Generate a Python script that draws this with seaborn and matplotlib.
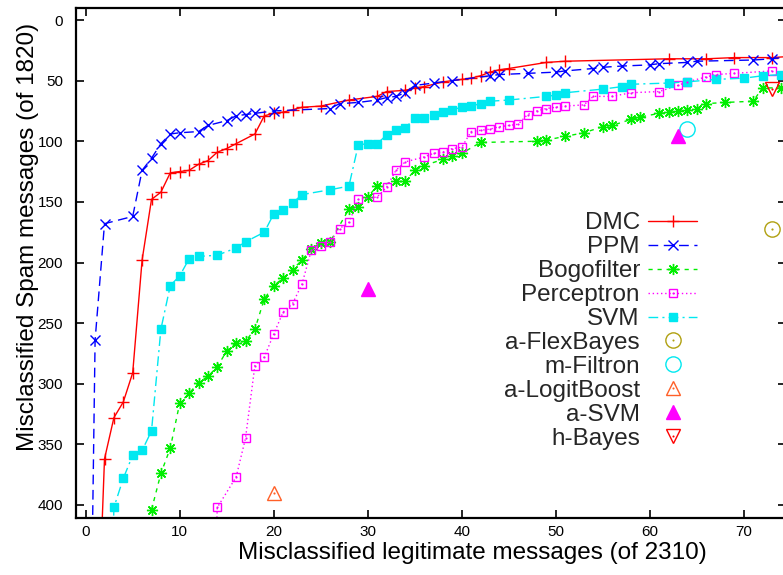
import matplotlib
matplotlib.use("Agg")
import matplotlib.pyplot as plt
from matplotlib.lines import Line2D
import seaborn as sns
import pandas as pd

# ---------------- data ----------------
dmc_x = [1, 2, 3, 4, 5, 6, 7, 8, 9, 10, 11, 12, 13, 14, 15, 16, 18, 19, 20, 21, 22, 23, 25, 28,
         31, 32, 34, 35, 36, 38, 40, 41, 42, 43, 44, 45, 49, 51, 62, 66, 69, 73, 75]
dmc_y = [570, 362, 328, 315, 291, 198, 148, 142, 126, 125, 124, 119, 116, 109, 106, 102, 94, 79, 77,
         76, 74, 72, 71, 66, 63, 59, 58, 56, 55, 51, 49, 48, 46, 43, 41, 40, 35, 34, 32, 32, 31, 31, 30]

ppm_x = [0, 1, 2, 5, 6, 7, 8, 9, 10, 12, 13, 15, 16, 17, 18, 20, 26, 27, 29, 31, 32, 33, 34, 35,
         37, 39, 43, 44, 47, 50, 51, 54, 55, 57, 60, 61, 64, 65, 71, 73, 75]
ppm_y = [830, 264, 168, 162, 124, 114, 102, 94, 93, 92, 87, 83, 79, 78, 77, 75, 73, 69, 68, 66, 64,
         63, 60, 54, 52, 50, 46, 45, 44, 43, 42, 40, 39, 38, 37, 36, 35, 34, 33, 32, 30]

bogo_x = [7, 8, 9, 10, 11, 12, 13, 14, 15, 16, 17, 18, 19, 20, 21, 22, 23, 24, 25, 26, 28, 29, 30,
          31, 33, 34, 35, 36, 38, 39, 40, 42, 48, 49, 51, 53, 55, 56, 58, 59, 61, 62, 63, 64, 65,
          66, 68, 71, 72, 74]
bogo_y = [404, 374, 353, 316, 308, 299, 294, 286, 273, 266, 265, 255, 230, 219, 213, 206, 198, 189,
          184, 183, 156, 154, 146, 137, 133, 133, 124, 120, 115, 112, 110, 101, 100, 99, 96, 93, 88,
          87, 82, 80, 77, 76, 75, 74, 73, 69, 68, 67, 56, 56]

perc_x = [13, 14, 16, 17, 18, 19, 20, 21, 22, 23, 24, 25, 26, 27, 28, 29, 31, 32, 33, 34, 36, 37,
          38, 39, 40, 41, 42, 43, 44, 45, 46, 47, 48, 49, 50, 51, 53, 54, 56, 58, 61, 63, 64, 66,
          67, 69, 73]
perc_y = [620, 402, 377, 345, 285, 278, 259, 241, 234, 218, 190, 186, 183, 172, 167, 148, 146, 138,
          124, 117, 113, 110, 109, 106, 105, 92, 91, 90, 88, 87, 86, 78, 75, 73, 72, 71, 70, 63, 63,
          60, 59, 54, 51, 47, 45, 44, 42]

svm_x = [2, 3, 4, 5, 6, 7, 8, 9, 10, 11, 12, 14, 16, 17, 19, 20, 21, 22, 23, 26, 28, 29, 30, 31,
         32, 33, 34, 35, 36, 37, 38, 39, 40, 41, 42, 43, 45, 49, 50, 51, 55, 57, 58, 62, 64, 67,
         70, 72, 74]
svm_y = [700, 402, 378, 359, 355, 339, 255, 219, 211, 197, 195, 194, 188, 183, 175, 160, 157, 151,
         144, 140, 137, 103, 102, 102, 95, 91, 89, 81, 81, 78, 76, 74, 72, 71, 69, 67, 66, 63, 62,
         60, 57, 55, 53, 52, 51, 49, 48, 46, 45]

flex_x, flex_y = [73], [172]
filtron_x, filtron_y = [64], [90]
logit_x, logit_y = [20], [390]
asvm_x, asvm_y = [30, 63], [222, 96]
hbayes_x, hbayes_y = [73], [57]

x_ticks = [0, 10, 20, 30, 40, 50, 60, 70]
y_ticks = [0, 50, 100, 150, 200, 250, 300, 350, 400]
x_label = "Misclassified legitimate messages (of 2310)"
y_label = "Misclassified Spam messages (of 1820)"

# ---------------- style ----------------
sns.set_theme(style="ticks")
plt.rcParams["font.family"] = ["Liberation Sans", "DejaVu Sans"]

W, H = 783, 575
fig = plt.figure(figsize=(W / 100, H / 100), dpi=100)
ax_l, ax_r, ax_t, ax_b = 75.7, 786.0, 8.3, 517.7
ax = fig.add_axes([ax_l / W, 1 - ax_b / H, (ax_r - ax_l) / W, (ax_b - ax_t) / H])

LW = 1.0
handles = []
labels = []


def curve(xs, ys, color, marker, ls, ms, label, filled=True, mew=1.0, dot=False):
    df = pd.DataFrame({"x": xs, "y": ys})
    sns.lineplot(data=df, x="x", y="y", ax=ax, sort=False, estimator=None, color=color,
                 marker=marker, markersize=ms, mec=color, mfc=color if filled else "none",
                 mew=mew, linestyle=ls, lw=LW, legend=False)
    main = Line2D([], [], color=color, marker=marker, markersize=ms, mec=color,
                  mfc=color if filled else "none", mew=mew, linestyle=ls, lw=LW)
    if dot:
        sns.scatterplot(data=df, x="x", y="y", ax=ax, marker="o", s=2.5, color=color,
                        linewidth=0, legend=False, zorder=4)
        dd = Line2D([], [], color=color, marker="o", markersize=1.5, mew=0, linestyle="none")
        handles.append((main, dd))
    else:
        handles.append(main)
    labels.append(label)


curve(dmc_x, dmc_y, "#ff0000", "+", "-", 8, "DMC", mew=1.0)
curve(ppm_x, ppm_y, "#0000ff", "x", (0, (7, 4)), 6.5, "PPM", mew=1.0)
curve(bogo_x, bogo_y, "#00ee00", (8, 2, 0), (0, (3, 3.5)), 8, "Bogofilter", mew=1.0)
curve(perc_x, perc_y, "#ff00ff", "s", (0, (1, 2)), 6, "Perceptron", filled=False, dot=True)
curve(svm_x, svm_y, "#00e8f0", "s", (0, (7, 3, 1.5, 3)), 6, "SVM")

curve(flex_x, flex_y, "#b0a010", "o", "none", 11, "a-FlexBayes", filled=False, dot=True)
curve(filtron_x, filtron_y, "#00e8f0", "o", "none", 11, "m-Filtron", filled=False)
curve(logit_x, logit_y, "#ff6028", "^", "none", 10, "a-LogitBoost", filled=False, dot=True)
curve(asvm_x, asvm_y, "#ff00ff", "^", "none", 10, "a-SVM")
curve(hbayes_x, hbayes_y, "#ff0000", "v", "none", 10, "h-Bayes", filled=False, dot=True)

# ---------------- axes ----------------
ax.set_xlim((ax_l - 85.7) / 9.4, (ax_r - 85.7) / 9.4)
ax.set_ylim((ax_b - 20) / 1.2125, (ax_t - 20) / 1.2125)
ax.set_xticks(x_ticks)
ax.set_yticks(y_ticks)
ax.tick_params(direction="in", top=True, right=True, length=5.5, width=1.2, color="black",
               labelsize=11, labelcolor="black")
ax.tick_params(axis="y", pad=9)
ax.tick_params(axis="x", pad=5)
for s in ax.spines.values():
    s.set_linewidth(1.6)
    s.set_color("black")

ax.set_xlabel(x_label, fontsize=17.5, color="black")
ax.set_ylabel(y_label, fontsize=17.5, color="black")
ax.xaxis.set_label_coords((472 - ax_l) / (ax_r - ax_l), -(553 - ax_b) / (ax_b - ax_t),
                          transform=ax.transAxes)
ax.yaxis.set_label_coords(-(ax_l - 28) / (ax_r - ax_l), (ax_b - 237) / (ax_b - ax_t),
                          transform=ax.transAxes)
ax.xaxis.label.set_va("center")
ax.yaxis.label.set_va("center")

leg = ax.legend(handles, labels, loc="center right", frameon=False, markerfirst=False,
                fontsize=17.5, borderpad=0, borderaxespad=0, handlelength=2.0,
                handletextpad=0.35, labelspacing=0.08, numpoints=1,
                bbox_to_anchor=(697 / W, 1 - 331 / H), bbox_transform=fig.transFigure)

fig.savefig("out.png", dpi=100)
